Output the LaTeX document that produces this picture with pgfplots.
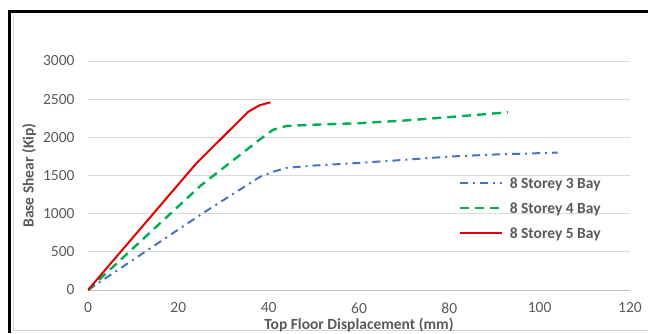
\documentclass[border=0pt]{standalone}
\usepackage{pgfplots}
\pgfplotsset{compat=1.18}
\usepackage{fontspec}
\setmainfont{Carlito}
\definecolor{tickgray}{HTML}{595959}
\definecolor{gridgray}{HTML}{D9D9D9}
\definecolor{axgray}{HTML}{BFBFBF}
\definecolor{sblue}{HTML}{4472C4}
\definecolor{sgreen}{HTML}{00B050}
\definecolor{sred}{HTML}{E00000}
\begin{document}
\begin{tikzpicture}
\useasboundingbox (0pt,0pt) rectangle (648pt,333pt);
\draw[gray!35, line width=0.8pt] (13pt,3pt) -- (648pt,3pt);
\draw[gray!35, line width=0.8pt] (13pt,3pt) -- (13pt,318pt);
\draw[black, line width=3pt] (9.5pt,0pt) -- (9.5pt,321.5pt) -- (648pt,321.5pt);
\begin{axis}[
  at={(88pt,43pt)}, anchor=south west,
  scale only axis, width=542pt, height=229pt,
  xmin=0, xmax=120, ymin=0, ymax=3000,
  xtick={0,20,...,120}, ytick={0,500,...,3000},
  axis x line*=bottom, axis y line*=left,
  y axis line style={draw=none},
  x axis line style={color=axgray, line width=0.8pt, -},
  major tick length=0pt,
  ymajorgrids, grid style={color=gridgray, line width=0.8pt},
  /pgf/number format/assume math mode=true,
  /pgf/number format/1000 sep={},
  ticklabel style={font=\fontsize{15.5}{17}\selectfont, text=tickgray},
  xticklabel style={anchor=north, yshift=-9pt},
  yticklabel style={anchor=east, xshift=-10pt},
  xlabel={Top Floor Displacement (mm)},
  ylabel={Base Shear (Kip)},
  label style={font=\bfseries\fontsize{15.5}{17}\selectfont, text=tickgray},
  xlabel style={at={(axis description cs:0.5,-0.152)}, anchor=center},
  ylabel style={at={(axis description cs:-0.1089,0.5)}, anchor=center},
  legend style={at={(axis description cs:0.683,0.497)}, anchor=north west,
    draw=none, fill=none, font=\bfseries\fontsize{15.5}{17}\selectfont, text=tickgray,
    row sep=12.5pt, inner sep=0pt, nodes={inner sep=1pt, text depth=0pt}},
  legend cell align=left,
  legend image code/.code={\draw[#1] (0pt,0pt) -- (42pt,0pt); \path (48pt,0pt);},
]
\addplot[sblue, line width=2pt, dash pattern=on 8pt off 5pt on 2pt off 5pt] coordinates {
 (0,0) (25,990) (38,1480) (41,1550) (44,1600) (50,1630) (60,1665) (70,1705) (80,1748) (90,1775) (104,1800)};
\addlegendentry{8 Storey 3 Bay}
\addplot[sgreen, line width=2.4pt, dash pattern=on 9pt off 6pt] coordinates {
 (0,0) (25,1370) (38,1970) (41,2100) (44,2150) (50,2165) (60,2185) (70,2220) (80,2265) (93,2328)};
\addlegendentry{8 Storey 4 Bay}
\addplot[sred, line width=2pt] coordinates {
 (0,0) (24,1660) (35.5,2336) (38,2420) (40.4,2459)};
\addlegendentry{8 Storey 5 Bay}
\end{axis}
\end{tikzpicture}
\end{document}
